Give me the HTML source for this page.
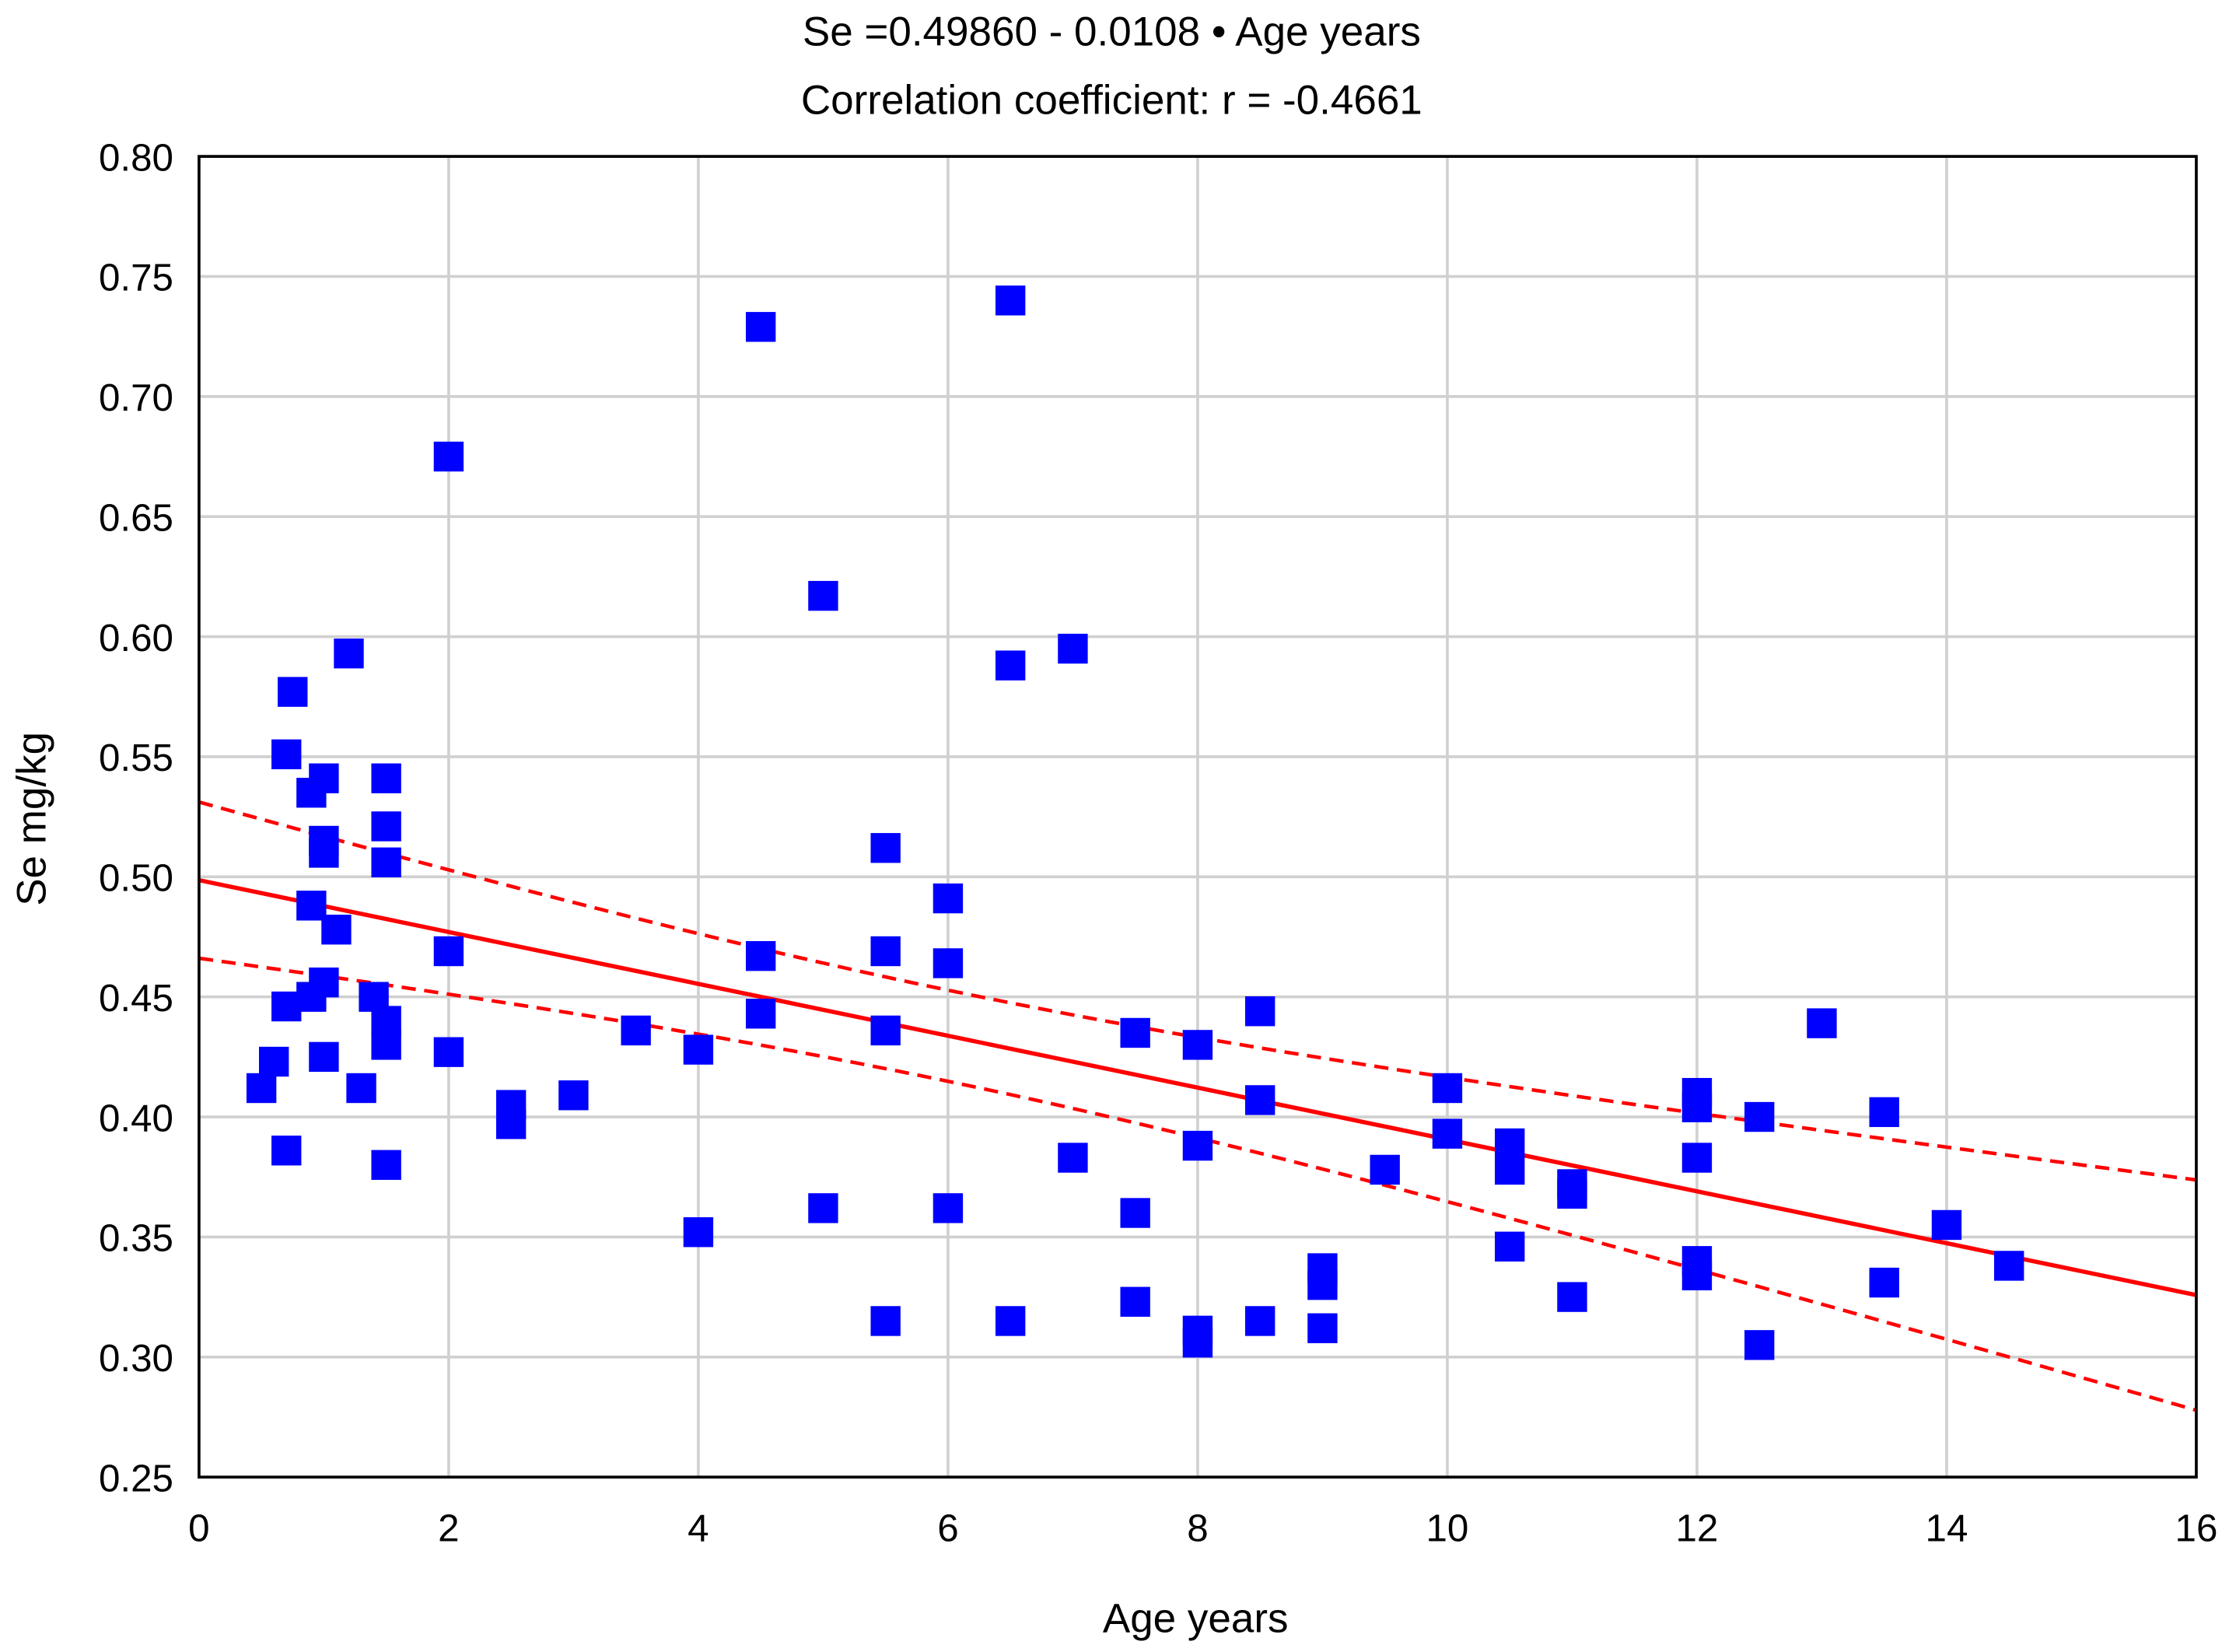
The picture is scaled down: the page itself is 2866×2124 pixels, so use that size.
<!DOCTYPE html>
<html><head><meta charset="utf-8"><style>
html,body{margin:0;padding:0;background:#fff;}
svg{display:block;}
text{font-family:"Liberation Sans",Arial,sans-serif;fill:#000;}
</style></head><body>
<svg id="chart" width="2866" height="2124" viewBox="0 0 1568 1162" xmlns="http://www.w3.org/2000/svg">
<rect x="0" y="0" width="1568" height="1162" fill="#fff"/>
<text x="782" y="32" font-size="29" text-anchor="middle">Se =0.49860 - 0.0108 • Age years</text>
<text x="782" y="80" font-size="29" text-anchor="middle">Correlation coefficient: r = -0.4661</text>
<g id="grid"></g>
<g id="bands"></g>
<g id="points"></g>
<rect x="140" y="110" width="1405" height="929" fill="none" stroke="#000" stroke-width="2"/>
<g id="ticks"></g>
<text x="841" y="1148" font-size="29" text-anchor="middle">Age years</text>
<text x="32" y="576" font-size="29" text-anchor="middle" transform="rotate(-90 32 576)">Se mg/kg</text>
</svg>
<script>
const xTicks=[0,2,4,6,8,10,12,14,16];
const yTicks=[0.25,0.30,0.35,0.40,0.45,0.50,0.55,0.60,0.65,0.70,0.75,0.80];
const ages=[0.5,0.6,0.7,0.7,0.7,0.75,0.9,0.9,0.9,1.0,1.0,1.0,1.0,1.0,1.1,1.2,1.3,1.4,1.5,1.5,1.5,1.5,1.5,1.5,2,2,2,2.5,2.5,3,3.5,4,4,4.5,4.5,4.5,5,5,5.5,5.5,5.5,5.5,6,6,6,6.5,6.5,6.5,7,7,7.5,7.5,7.5,8,8,8,8,8.5,8.5,8.5,9,9,9,9.5,10,10,10.5,10.5,10.5,11,11,11,12,12,12,12,12,12.5,12.5,13,13.5,13.5,14,14.5];
const se=[0.412,0.423,0.446,0.386,0.551,0.577,0.535,0.488,0.450,0.541,0.515,0.510,0.456,0.425,0.478,0.593,0.412,0.450,0.541,0.521,0.506,0.440,0.430,0.380,0.675,0.469,0.427,0.405,0.397,0.409,0.436,0.428,0.352,0.729,0.467,0.443,0.617,0.362,0.512,0.469,0.436,0.315,0.491,0.464,0.362,0.740,0.588,0.315,0.595,0.383,0.435,0.360,0.323,0.430,0.388,0.311,0.306,0.444,0.407,0.315,0.337,0.330,0.312,0.378,0.412,0.393,0.389,0.378,0.346,0.372,0.368,0.325,0.410,0.404,0.383,0.340,0.334,0.400,0.305,0.439,0.402,0.331,0.355,0.338];
const intercept=0.49860, slope=-0.0108;
const bandA=0.00036, bandB=0.0000194, bandCenter=6;

const NS="http://www.w3.org/2000/svg";
const X=v=>140+(v-0)/(16-0)*1405;
const Y=v=>1039-(v-0.25)/(0.80-0.25)*929;
function mk(tag,attrs,parent){const e=document.createElementNS(NS,tag);for(const k in attrs)e.setAttribute(k,attrs[k]);parent.appendChild(e);return e;}
const grid=document.getElementById('grid'),ticks=document.getElementById('ticks');
xTicks.forEach(t=>{
  const l=mk('line',{x1:X(t),x2:X(t),y1:110,y2:1039,stroke:'#d0d0d0','stroke-width':2},grid);
  
  
  const tx=mk('text',{x:X(t),y:1084,'font-size':27,'text-anchor':'middle'},ticks);
  tx.textContent=t;
  
  
});
yTicks.forEach(t=>{
  const l=mk('line',{x1:140,x2:1545,y1:Y(t),y2:Y(t),stroke:'#d0d0d0','stroke-width':2},grid);
  
  
  const tx=mk('text',{x:122,y:Y(t)+10,'font-size':27,'text-anchor':'end'},ticks);
  tx.textContent=t.toFixed(2);
  
  
});
const bands=document.getElementById('bands');
const fit=x=>intercept+slope*x;
const hw=x=>Math.sqrt(bandA+bandB*(x-bandCenter)*(x-bandCenter));
let up='',lo='';
for(let i=0;i<=160;i++){const x=i/10;up+=(i?'L':'M')+X(x)+','+Y(fit(x)+hw(x));lo+=(i?'L':'M')+X(x)+','+Y(fit(x)-hw(x));}
const u=mk('path',{d:up,fill:'none',stroke:'#ff0000','stroke-width':2.5,'stroke-dasharray':'10,6'},bands);


const lw=mk('path',{d:lo,fill:'none',stroke:'#ff0000','stroke-width':2.5,'stroke-dasharray':'10,6'},bands);


const rl=mk('line',{x1:X(0),y1:Y(fit(0)),x2:X(16),y2:Y(fit(16)),stroke:'#ff0000','stroke-width':3},bands);


const pts=document.getElementById('points');
ages.forEach((a,i)=>{
  const r=mk('rect',{x:X(a)-10.5,y:Y(se[i])-10.5,width:21,height:21,fill:'#0000ff'},pts);
  
  
});
</script>
</body></html>
